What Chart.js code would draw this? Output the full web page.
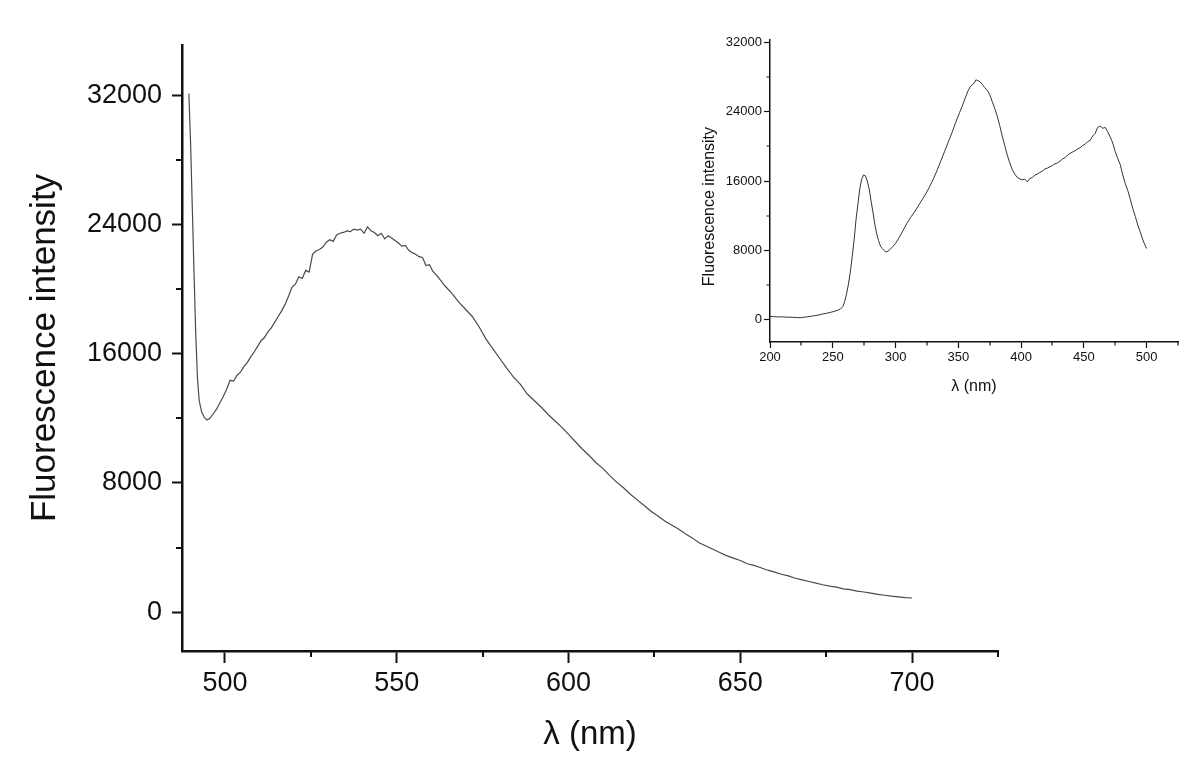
<!DOCTYPE html>
<html>
<head>
<meta charset="utf-8">
<title>Fluorescence spectra</title>
<script src="https://cdn.jsdelivr.net/npm/chart.js@4.4.1/dist/chart.umd.min.js"></script>
<style>
    html, body { margin: 0; padding: 0; background: #fff; }
    #wrap { position: relative; width: 1200px; height: 779px; }
    #main { position: absolute; left: 0; top: 0; }
    #inset { position: absolute; left: 690px; top: 20px; }
</style>
</head>
<body>
<div id="wrap">
    <canvas id="main" width="1200" height="779"></canvas>
    <canvas id="inset" width="510" height="380"></canvas>
</div>
<script>
/*global Chart*/

// emission spectrum (main plot)
var mainWavelength = [
    489.5, 490, 490.5, 491, 491.5, 492, 492.5, 493.2, 494, 494.8, 495.6, 496.5, 497.5, 498.5, 499.5,
    500.5, 501.5, 502.5, 503.5, 504.5, 505.5, 506.5, 507.5, 508.5, 509.5,
    510.5, 511.5, 512.5, 513.5, 514.5, 515.5, 516.5, 517.5, 518.5, 519.5,
    520.5, 521.5, 522.5, 523.5, 524.5, 525.5, 526.5, 527.5, 528.5, 529.5,
    530.5, 531.5, 532.5, 533.5, 534.5, 535.5, 536.5, 537.5, 538.5, 539.5,
    540.5, 541.5, 542.5, 543.5, 544.5, 545.5, 546.5, 547.5, 548.5, 549.5,
    550.5, 551.5, 552.5, 553.5, 554.5, 555.5, 556.5, 557.5, 558.5, 559.5, 560.5,
    562, 564, 566, 568, 570, 572, 574, 576, 578, 580,
    582, 584, 586, 588, 590, 592, 594, 596, 598, 600,
    602, 604, 606, 608, 610, 612, 614, 616, 618, 620,
    622, 624, 626, 628, 630, 632, 634, 636, 638, 640,
    642, 644, 646, 648, 650, 652, 654, 656, 658, 660,
    662, 664, 666, 668, 670, 672, 674, 676, 678, 680,
    682, 684, 686, 688, 690, 692, 694, 696, 698, 700
];
var mainIntensity = [
    32100, 29000, 25000, 21000, 17200, 14500, 13100, 12400, 12050, 11900, 12000, 12250, 12550, 12950, 13350,
    13800, 14350, 14300, 14650, 14850, 15200, 15450, 15800, 16100, 16450,
    16800, 17000, 17350, 17600, 17950, 18300, 18650, 19050, 19550, 20100,
    20300, 20750, 20650, 21150, 21050, 22150, 22350, 22450, 22600, 22900,
    23050, 22950, 23350, 23450, 23500, 23600, 23550, 23700, 23650, 23700,
    23450, 23850, 23600, 23500, 23300, 23450, 23100, 23300, 23150, 23000,
    22850, 22650, 22700, 22400, 22250, 22150, 22000, 21950, 21450, 21500, 21100,
    20750, 20200, 19750, 19200, 18750, 18300, 17650, 16900, 16300, 15700,
    15100, 14550, 14100, 13500, 13100, 12700, 12250, 11850, 11450, 11000,
    10550, 10100, 9700, 9250, 8900, 8450, 8050, 7700, 7300, 6950,
    6600, 6250, 5950, 5650, 5400, 5150, 4850, 4600, 4300, 4100,
    3900, 3700, 3500, 3350, 3200, 3000, 2900, 2750, 2600, 2480,
    2350, 2250, 2100, 2000, 1900, 1800, 1700, 1620, 1550, 1450,
    1400, 1300, 1250, 1180, 1100, 1050, 990, 950, 900, 880
];

// excitation spectrum (inset)
var insetWavelength = [
    200, 203, 206, 209, 212, 215, 218, 221, 224, 227,
    230, 233, 236, 239, 242, 245, 248, 251, 254, 256,
    258, 259.5, 261, 262.5, 264, 265.5, 267, 268.5, 270, 271.5,
    273, 274.5, 276, 277.5, 279, 280.5, 282, 283.5, 285, 286.5,
    288, 289.5, 291, 292.5, 294, 296, 298, 300, 303, 306,
    309, 312, 315, 318, 321, 324, 327, 330, 333, 336,
    339, 342, 345, 348, 351, 354, 356, 358, 359.5, 361,
    362.5, 364, 365.5, 367, 369, 371, 373, 375, 377, 379,
    381, 383, 385, 387, 389, 391, 393, 395, 397, 399,
    401, 403, 405, 407, 409, 411, 413, 415, 417, 419,
    421, 423, 425, 427, 429, 431, 433, 435, 437, 439,
    441, 443, 445, 447, 449, 451, 453, 455, 457, 459,
    461, 463, 465, 467, 469, 471, 473, 475, 477, 479,
    481, 483, 485, 487, 489, 491, 493, 495, 497, 499,
    500
];
var insetIntensity = [
    350, 330, 300, 310, 280, 270, 250, 230, 200, 260,
    320, 380, 450, 530, 640, 720, 820, 930, 1080, 1200,
    1500, 2100, 2970, 4100, 5500, 7300, 9200, 11500, 13300, 15100,
    16200, 16700, 16600, 16000, 15100, 13700, 12400, 11000, 9900, 9100,
    8500, 8200, 7950, 7800, 7900, 8150, 8450, 8800, 9500, 10300,
    11100, 11800, 12400, 13100, 13800, 14500, 15300, 16200, 17200, 18300,
    19400, 20500, 21600, 22800, 23900, 25000, 25800, 26500, 26900, 27100,
    27300, 27700, 27600, 27500, 27200, 26800, 26500, 26000, 25200, 24400,
    23500, 22400, 21200, 20100, 19000, 18100, 17300, 16800, 16400, 16250,
    16150, 16200, 15900, 16300, 16400, 16700, 16800, 17000, 17150, 17400,
    17500, 17650, 17800, 18000, 18100, 18300, 18550, 18700, 19000, 19200,
    19350, 19500, 19700, 19850, 20100, 20250, 20550, 20700, 21200, 21500,
    22200, 22350, 22100, 22200, 21700, 21100, 20400, 19400, 18600, 17900,
    16700, 15700, 14900, 13900, 12800, 11900, 10900, 10100, 9200, 8500,
    8200
];

var mainXTicks = [500, 550, 600, 650, 700];
var mainYTicks = [0, 8000, 16000, 24000, 32000];
var mainXMinor = [525, 575, 625, 675, 725];
var mainYMinor = [4000, 12000, 20000, 28000];

var insetXTicks = [200, 250, 300, 350, 400, 450, 500];
var insetYTicks = [0, 8000, 16000, 24000, 32000];
var insetXMinor = [225, 275, 325, 375, 425, 475, 525];
var insetYMinor = [4000, 12000, 20000, 28000];

var FONT = "'Liberation Sans', Arial, Helvetica, sans-serif";
var INK = "#111";

// the big plot's numbers look narrow and tall; use the narrow face when it is there
var HAS_NARROW = (function () {
    "use strict";
    var ctx = document.createElement("canvas").getContext("2d");
    ctx.font = "40px monospace";
    var base = ctx.measureText("32000 nm").width;
    ctx.font = "40px 'Liberation Sans Narrow', monospace";
    return ctx.measureText("32000 nm").width !== base;
}());
var NARROW = "'Liberation Sans Narrow', " + FONT;
var mainTickFont = HAS_NARROW ? {family: NARROW, size: 30} : {family: FONT, size: 27};
var mainXTitleFont = HAS_NARROW ? {family: NARROW, size: 37} : {family: FONT, size: 33};
var mainXTitlePad = HAS_NARROW ? 23 : 24;

function toPoints(xs, ys) {
    "use strict";
    return xs.map(function (x, i) {
        return {x: x, y: ys[i]};
    });
}

function fixedTicks(values) {
    "use strict";
    return function (scale) {
        scale.ticks = values.map(function (v) {
            return {value: v};
        });
    };
}

function plainLabel(value) {
    "use strict";
    return String(value);
}

// Chart.js has no minor ticks, so draw the short ones here
var minorTicks = {
    id: "minorTicks",
    afterDraw: function (chart, args, opts) {
        "use strict";
        var ctx = chart.ctx;
        var area = chart.chartArea;
        var sx = chart.scales.x;
        var sy = chart.scales.y;
        ctx.save();
        ctx.strokeStyle = INK;
        ctx.lineWidth = opts.width;
        ctx.beginPath();
        opts.x.forEach(function (v) {
            var px = Math.round(sx.getPixelForValue(v));
            ctx.moveTo(px, area.bottom);
            ctx.lineTo(px, area.bottom + opts.length);
        });
        opts.y.forEach(function (v) {
            var py = Math.round(sy.getPixelForValue(v));
            ctx.moveTo(area.left, py);
            ctx.lineTo(area.left - opts.length, py);
        });
        ctx.stroke();
        ctx.restore();
    }
};

new Chart(document.getElementById("main"), {
    type: "line",
    data: {
        datasets: [{
            data: toPoints(mainWavelength, mainIntensity),
            borderColor: "#4a4a4a",
            borderWidth: 1.2,
            pointRadius: 0,
            tension: 0,
            fill: false
        }]
    },
    options: {
        responsive: false,
        animation: false,
        devicePixelRatio: 1,
        layout: {padding: {top: 45, right: 202, left: 0, bottom: 0}},
        plugins: {
            legend: {display: false},
            tooltip: {enabled: false},
            minorTicks: {x: mainXMinor, y: mainYMinor, length: 6, width: 2}
        },
        scales: {
            x: {
                type: "linear",
                min: 487.5,
                max: 725,
                bounds: "data",
                afterBuildTicks: fixedTicks(mainXTicks),
                afterFit: function (scale) {
                    scale.height = 128;
                },
                border: {display: true, color: INK, width: 2.5},
                grid: {drawOnChartArea: false, tickLength: 12, tickWidth: 2, tickColor: INK},
                ticks: {color: INK, font: mainTickFont, padding: 4, maxRotation: 0, autoSkip: false, callback: plainLabel},
                title: {display: true, text: "λ (nm)", color: INK, font: mainXTitleFont, padding: {top: 0, bottom: mainXTitlePad}}
            },
            y: {
                min: -2400,
                max: 35100,
                bounds: "data",
                afterBuildTicks: fixedTicks(mainYTicks),
                afterFit: function (scale) {
                    scale.width = 182;
                },
                border: {display: true, color: INK, width: 2.5},
                grid: {drawOnChartArea: false, tickLength: 10, tickWidth: 2, tickColor: INK},
                ticks: {color: INK, font: mainTickFont, padding: 10, autoSkip: false, callback: plainLabel},
                title: {display: true, text: "Fluorescence intensity", color: INK, font: {family: FONT, size: 35}, padding: {top: 24, bottom: 0}}
            }
        }
    },
    plugins: [minorTicks]
});

new Chart(document.getElementById("inset"), {
    type: "line",
    data: {
        datasets: [{
            data: toPoints(insetWavelength, insetIntensity),
            borderColor: "#333",
            borderWidth: 1,
            pointRadius: 0,
            tension: 0,
            fill: false
        }]
    },
    options: {
        responsive: false,
        animation: false,
        devicePixelRatio: 1,
        layout: {padding: {top: 20, right: 22, left: 0, bottom: 0}},
        plugins: {
            legend: {display: false},
            tooltip: {enabled: false},
            minorTicks: {x: insetXMinor, y: insetYMinor, length: 3.5, width: 1.2}
        },
        scales: {
            x: {
                type: "linear",
                min: 200,
                max: 525,
                bounds: "data",
                afterBuildTicks: fixedTicks(insetXTicks),
                afterFit: function (scale) {
                    scale.height = 58;
                },
                border: {display: true, color: INK, width: 1.5},
                grid: {drawOnChartArea: false, tickLength: 6, tickWidth: 1.2, tickColor: INK},
                ticks: {color: INK, font: {family: FONT, size: 13}, padding: 2, maxRotation: 0, autoSkip: false, callback: plainLabel},
                title: {display: true, text: "λ (nm)", color: INK, font: {family: FONT, size: 16}, padding: {top: 0, bottom: 4}}
            },
            y: {
                min: -2600,
                max: 32300,
                bounds: "data",
                afterBuildTicks: fixedTicks(insetYTicks),
                afterFit: function (scale) {
                    scale.width = 80;
                },
                border: {display: true, color: INK, width: 1.5},
                grid: {drawOnChartArea: false, tickLength: 6, tickWidth: 1.2, tickColor: INK},
                ticks: {color: INK, font: {family: FONT, size: 13}, padding: 2, autoSkip: false, callback: plainLabel},
                // trailing spaces push the rotated title a little below the axis centre, as in the original
                title: {display: true, text: "Fluorescence intensity       ", color: INK, font: {family: FONT, size: 16}, padding: {top: 10, bottom: 0}}
            }
        }
    },
    plugins: [minorTicks]
});
</script>
</body>
</html>
